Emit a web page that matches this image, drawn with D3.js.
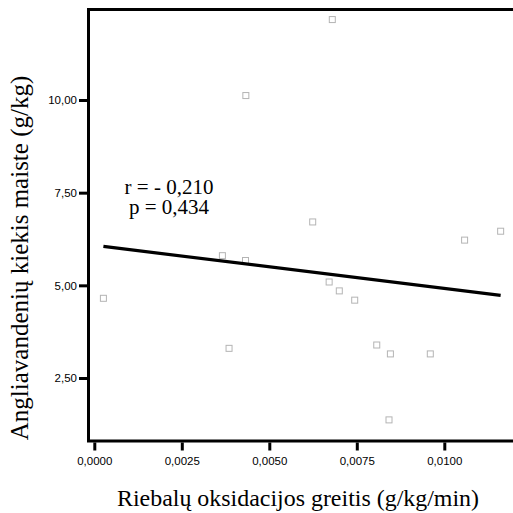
<!DOCTYPE html>
<html>
<head>
<meta charset="utf-8">
<script src="https://cdn.jsdelivr.net/npm/d3@7"></script>
<style>
  html, body { margin: 0; padding: 0; background: #fff; }
  svg { display: block; }
</style>
</head>
<body>
<div id="chart"></div>
<script>
// Fat oxidation rate (g/kg/min) vs. carbohydrates in diet (g/kg).
const fatOxidation = [0.00026, 0.00366, 0.00385, 0.00432, 0.00433, 0.00624, 0.00671, 0.00680,
                      0.00700, 0.00744, 0.00807, 0.00846, 0.00842, 0.00960, 0.01058, 0.01161];
const carbIntake   = [4.65, 5.80, 3.30, 5.67, 10.12, 6.71, 5.09, 12.17,
                      4.85, 4.60, 3.39, 3.15, 1.37, 3.15, 6.22, 6.46];

// Linear fit shown on the chart.
const fitIntercept = 6.08;
const fitSlope = -116.3;

const xTicks = [0, 0.0025, 0.005, 0.0075, 0.01];
const yTicks = [2.5, 5, 7.5, 10];
const statLines = ["r = - 0,210", "p = 0,434"];
const xTitle = "Riebalų oksidacijos greitis (g/kg/min)";
const yTitle = "Angliavandenių kiekis maiste (g/kg)";

const serif = "'Liberation Serif', 'Times New Roman', serif";

function createScatterChart(width, height) {
    // Plot frame edges.
    const frameLeft = 88.5;
    const frameTop = 9.5;
    const frameBottom = 441;

    const x = d3.scaleLinear()
        .domain([0, 0.01])
        .range([94.3, 444.3]);

    const y = d3.scaleLinear()
        .domain([2.5, 10])
        .range([378, 100]);

    const svg = d3.create("svg")
        .attr("width", width)
        .attr("height", height)
        .attr("viewBox", [0, 0, width, height]);

    // Frame: left, top and bottom lines (right edge runs off the page).
    svg.append("path")
        .attr("d", `M${width + 5},${frameTop}H${frameLeft}V${frameBottom}H${width + 5}`)
        .attr("fill", "none")
        .attr("stroke", "#000")
        .attr("stroke-width", 3);

    const comma = f => v => f(v).replace(".", ",");

    const yAxis = svg.append("g")
        .attr("transform", `translate(${frameLeft - 1.5},0)`)
        .call(d3.axisLeft(y)
            .tickValues(yTicks)
            .tickFormat(comma(d3.format(".2f")))
            .tickSize(8)
            .tickPadding(2));

    const xAxis = svg.append("g")
        .attr("transform", `translate(0,${frameBottom + 1.5})`)
        .call(d3.axisBottom(x)
            .tickValues(xTicks)
            .tickFormat(comma(d3.format(".4f")))
            .tickSize(8)
            .tickPadding(6));

    [xAxis, yAxis].forEach(g => {
        g.select(".domain").remove();
        g.selectAll(".tick line").attr("stroke", "#000").attr("stroke-width", 3);
        g.selectAll(".tick text")
            .attr("fill", "#000")
            .style("font-family", "'Liberation Sans', Arial, sans-serif")
            .style("font-size", "11.5px");
    });

    // Data points: small hollow grey squares.
    const size = 6;
    svg.append("g")
        .selectAll("rect")
        .data(fatOxidation.map((v, i) => [v, carbIntake[i]]))
        .join("rect")
        .attr("x", d => x(d[0]) - size / 2)
        .attr("y", d => y(d[1]) - size / 2)
        .attr("width", size)
        .attr("height", size)
        .attr("fill", "#fff")
        .attr("stroke", "#b4b4b4")
        .attr("stroke-width", 1);

    // Fit line across the range of the data.
    const [xMin, xMax] = d3.extent(fatOxidation);
    svg.append("line")
        .attr("x1", x(xMin))
        .attr("y1", y(fitIntercept + fitSlope * xMin))
        .attr("x2", x(xMax))
        .attr("y2", y(fitIntercept + fitSlope * xMax))
        .attr("stroke", "#000")
        .attr("stroke-width", 3.2);

    // Correlation annotation.
    svg.append("g")
        .selectAll("text")
        .data(statLines)
        .join("text")
        .attr("x", 169)
        .attr("y", (d, i) => 194 + i * 20)
        .attr("text-anchor", "middle")
        .style("font-family", serif)
        .style("font-size", "21px")
        .text(d => d);

    // Axis titles.
    svg.append("text")
        .attr("x", 298)
        .attr("y", 506)
        .attr("text-anchor", "middle")
        .attr("textLength", 362)
        .attr("lengthAdjust", "spacingAndGlyphs")
        .style("font-family", serif)
        .style("font-size", "24px")
        .text(xTitle);

    svg.append("text")
        .attr("transform", "translate(28,258) rotate(-90)")
        .attr("text-anchor", "middle")
        .style("font-family", serif)
        .style("font-size", "25px")
        .text(yTitle);

    return svg.node();
}

document.getElementById("chart").appendChild(createScatterChart(513, 513));
</script>
</body>
</html>
